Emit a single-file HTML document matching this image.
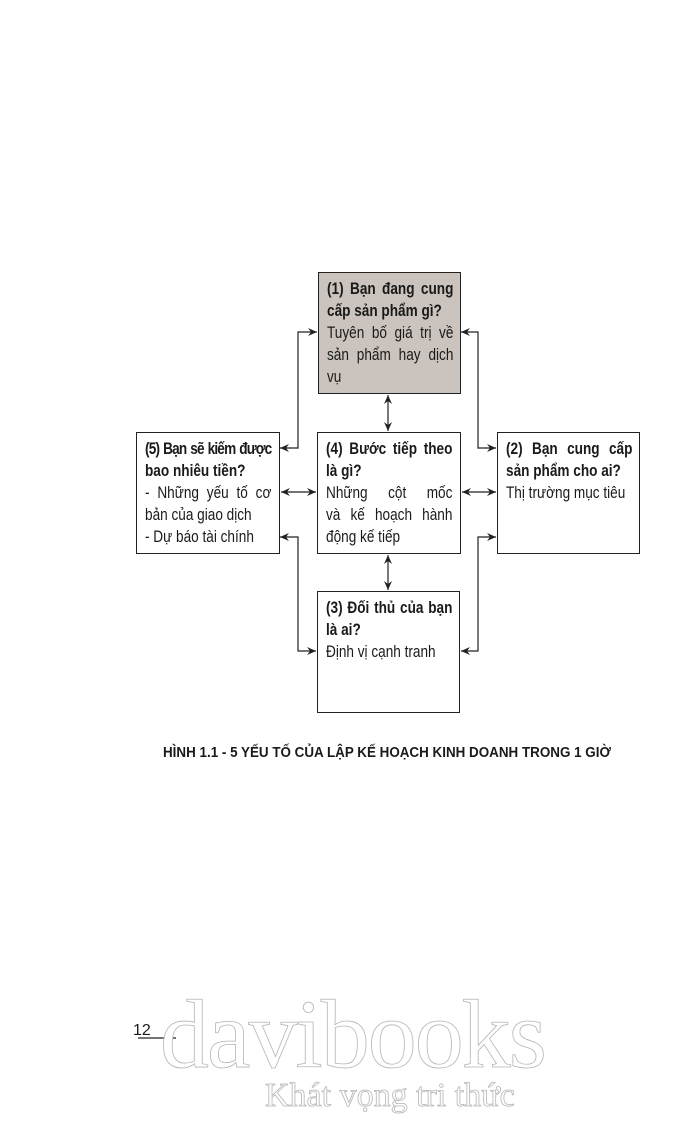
<!DOCTYPE html>
<html><head><meta charset="utf-8"><style>
body{margin:0;background:#fff;}
#p{position:relative;width:700px;height:1122px;overflow:hidden;background:#fff;font-family:"Liberation Sans",sans-serif;color:#1a1a1a;}
.b{position:absolute;border:1.5px solid #222;box-sizing:border-box;}
.in{position:absolute;left:8px;top:5px;width:158px;transform:scaleX(0.8);transform-origin:0 0;font-size:17px;line-height:22px;}
.in div{white-space:nowrap;}
.in .j{text-align:justify;text-align-last:justify;}
.in b{font-weight:bold;}
svg{position:absolute;left:0;top:0;}
.cap{position:absolute;left:163px;top:745px;font-weight:bold;font-size:14.5px;white-space:nowrap;transform:scaleX(0.925);transform-origin:0 0;}
.wm{position:absolute;font-family:"Liberation Serif",serif;color:#fff;-webkit-text-stroke:0.8px #b5b5b5;white-space:nowrap;}
</style></head><body><div id="p">
<div class="b" style="left:318px;top:272px;width:143px;height:122px;background:#cbc4be;"><div class="in">
<div class="j"><b>(1) Bạn đang cung</b></div><div><b>cấp sản phẩm gì?</b></div><div class="j">Tuyên bố giá trị về</div><div class="j">sản phẩm hay dịch</div><div>vụ</div></div></div>
<div class="b" style="left:136px;top:432px;width:144px;height:122px;"><div class="in">
<div class="j" style="letter-spacing:-1px"><b>(5) Bạn sẽ kiếm được</b></div><div><b>bao nhiêu tiền?</b></div><div class="j">- Những yếu tố cơ</div><div>bản của giao dịch</div><div>- Dự báo tài chính</div></div></div>
<div class="b" style="left:317px;top:432px;width:144px;height:122px;"><div class="in">
<div class="j"><b>(4) Bước tiếp theo</b></div><div><b>là gì?</b></div><div class="j">Những cột mốc</div><div class="j">và kế hoạch hành</div><div>động kế tiếp</div></div></div>
<div class="b" style="left:497px;top:432px;width:143px;height:122px;"><div class="in">
<div class="j"><b>(2) Bạn cung cấp</b></div><div><b>sản phẩm cho ai?</b></div><div>Thị trường mục tiêu</div></div></div>
<div class="b" style="left:317px;top:591px;width:143px;height:122px;"><div class="in">
<div class="j"><b>(3) Đối thủ của bạn</b></div><div><b>là ai?</b></div><div>Định vị cạnh tranh</div></div></div>
<svg width="700" height="1122"><defs><marker id="a" markerWidth="10" markerHeight="8" refX="9" refY="4" orient="auto-start-reverse" markerUnits="userSpaceOnUse"><path d="M0,0 L9,4 L0,8 L3,4z" fill="#222"/></marker></defs>
<g stroke="#222" stroke-width="1.2" fill="none">
<polyline points="317,332 298,332 298,448 280,448" marker-start="url(#a)" marker-end="url(#a)"/>
<polyline points="280,537 298,537 298,651 316,651" marker-start="url(#a)" marker-end="url(#a)"/>
<polyline points="461,332 478,332 478,448 496,448" marker-start="url(#a)" marker-end="url(#a)"/>
<polyline points="496,537 478,537 478,651 461,651" marker-start="url(#a)" marker-end="url(#a)"/>
<line x1="281" y1="492" x2="316" y2="492" marker-start="url(#a)" marker-end="url(#a)"/>
<line x1="462" y1="492" x2="496" y2="492" marker-start="url(#a)" marker-end="url(#a)"/>
<line x1="388" y1="395" x2="388" y2="431" marker-start="url(#a)" marker-end="url(#a)"/>
<line x1="388" y1="555" x2="388" y2="590" marker-start="url(#a)" marker-end="url(#a)"/>
<line x1="138" y1="1038" x2="176" y2="1038"/>
</g></svg>
<div class="cap">HÌNH 1.1 - 5 YẾU TỐ CỦA LẬP KẾ HOẠCH KINH DOANH TRONG 1 GIỜ</div>
<div style="position:absolute;left:133px;top:1022px;font-size:16px;">12</div>
<div class="wm" style="left:160px;top:985px;font-size:98px;line-height:100px;letter-spacing:-2px;">davibooks</div>
<div class="wm" style="left:265px;top:1078px;font-size:34px;line-height:36px;">Khát vọng tri thức</div>
</div></body></html>
